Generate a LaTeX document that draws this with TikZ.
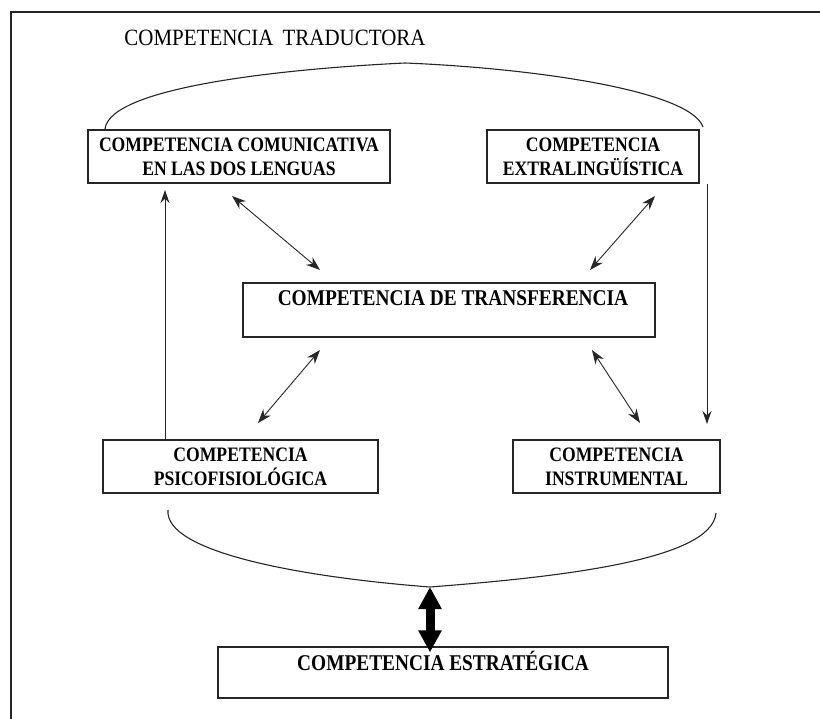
\documentclass[tikz,border=0pt]{standalone}
\usepackage{fontspec}
\setmainfont{Liberation Serif}
\newfontfamily\condserif[FakeStretch=0.86]{Liberation Serif}
\newfontfamily\titleserif[FakeStretch=0.9]{Liberation Serif}
\usetikzlibrary{arrows.meta}
\begin{document}
\begin{tikzpicture}[x=1pt,y=-1pt,
  ink/.style={draw=black!85},
  box/.style={ink, line width=1.2pt, inner sep=0pt, align=center,
    font=\condserif\bfseries\fontsize{20.5}{24}\selectfont},
  onebox/.style={box, font=\condserif\bfseries\fontsize{22.5}{24}\selectfont},
  dbl/.style={ink, line width=0.9pt, {Stealth[length=14pt,width=10pt]}-{Stealth[length=14pt,width=10pt]}},
  single/.style={ink, line width=0.9pt, -{Stealth[length=13pt,width=9pt]}},
  curve/.style={ink, line width=1.1pt},
  fat/.style={draw=black, line width=9pt, {Triangle[length=22pt,width=22pt]}-{Triangle[length=22pt,width=22pt]}}]
\useasboundingbox (0,0) rectangle (820,719);
% frame
\coordinate (frtr) at (820,12);
\coordinate (frtl) at (11,12);
\coordinate (frbl) at (11,719);
\draw[ink, line width=1.3pt] (frtr) -- (frtl) -- (frbl);
% title
\node[font=\titleserif\fontsize{23.3}{25}\selectfont] (title) at (275,38) {COMPETENCIA\hspace{9pt}TRADUCTORA};
% boxes
\node[box, minimum width=302pt, minimum height=53pt] (cc) at (239,156.5) {COMPETENCIA COMUNICATIVA\\EN LAS DOS LENGUAS};
\node[box, minimum width=212pt, minimum height=53pt] (ex) at (593,156.5) {COMPETENCIA\\EXTRALINGÜÍSTICA};
\node[onebox, minimum width=412pt, text height=23pt, text depth=31pt] (tr) at (449,310) {\hspace{8pt}COMPETENCIA DE TRANSFERENCIA};
\node[box, minimum width=275pt, minimum height=53pt] (ps) at (240.5,466.5) {COMPETENCIA\\PSICOFISIOLÓGICA};
\node[box, minimum width=207pt, minimum height=53pt] (in) at (616.5,466.5) {COMPETENCIA\\INSTRUMENTAL};
\node[onebox, minimum width=450pt, text height=23pt, text depth=28pt] (es) at (443,672.5) {COMPETENCIA ESTRATÉGICA};
% top arc
\coordinate (tal) at (105,129);
\coordinate (tap) at (405,63);
\coordinate (tar) at (703,127);
\draw[curve] (tal) .. controls (110,85) and (300,68) .. (tap) .. controls (530,68) and (690,90) .. (tar);
% bottom arc
\coordinate (bal) at (168,510);
\coordinate (bap) at (430,587);
\coordinate (bar) at (716,513);
\draw[curve] (bal) .. controls (164,552) and (300,577) .. (bap) .. controls (560,577) and (712,560) .. (bar);
% double arrows
\coordinate (a1s) at (232,196); \coordinate (a1e) at (320,270);
\coordinate (a2s) at (655,196); \coordinate (a2e) at (590,270);
\coordinate (a3s) at (320,350); \coordinate (a3e) at (258,423);
\coordinate (a4s) at (592,350); \coordinate (a4e) at (640,423);
\draw[dbl] (a1s) -- (a1e);
\draw[dbl] (a2s) -- (a2e);
\draw[dbl] (a3s) -- (a3e);
\draw[dbl] (a4s) -- (a4e);
% vertical arrows
\coordinate (lup) at (165,190);
\coordinate (rdn) at (707,424);
\draw[single] (ps.north -| lup) -- (lup);
\draw[single] (ex.south -| rdn) -- (rdn);
% fat arrow
\draw[fat, shorten >=-6pt] (bap) -- (bap |- es.north);
\end{tikzpicture}
\end{document}
